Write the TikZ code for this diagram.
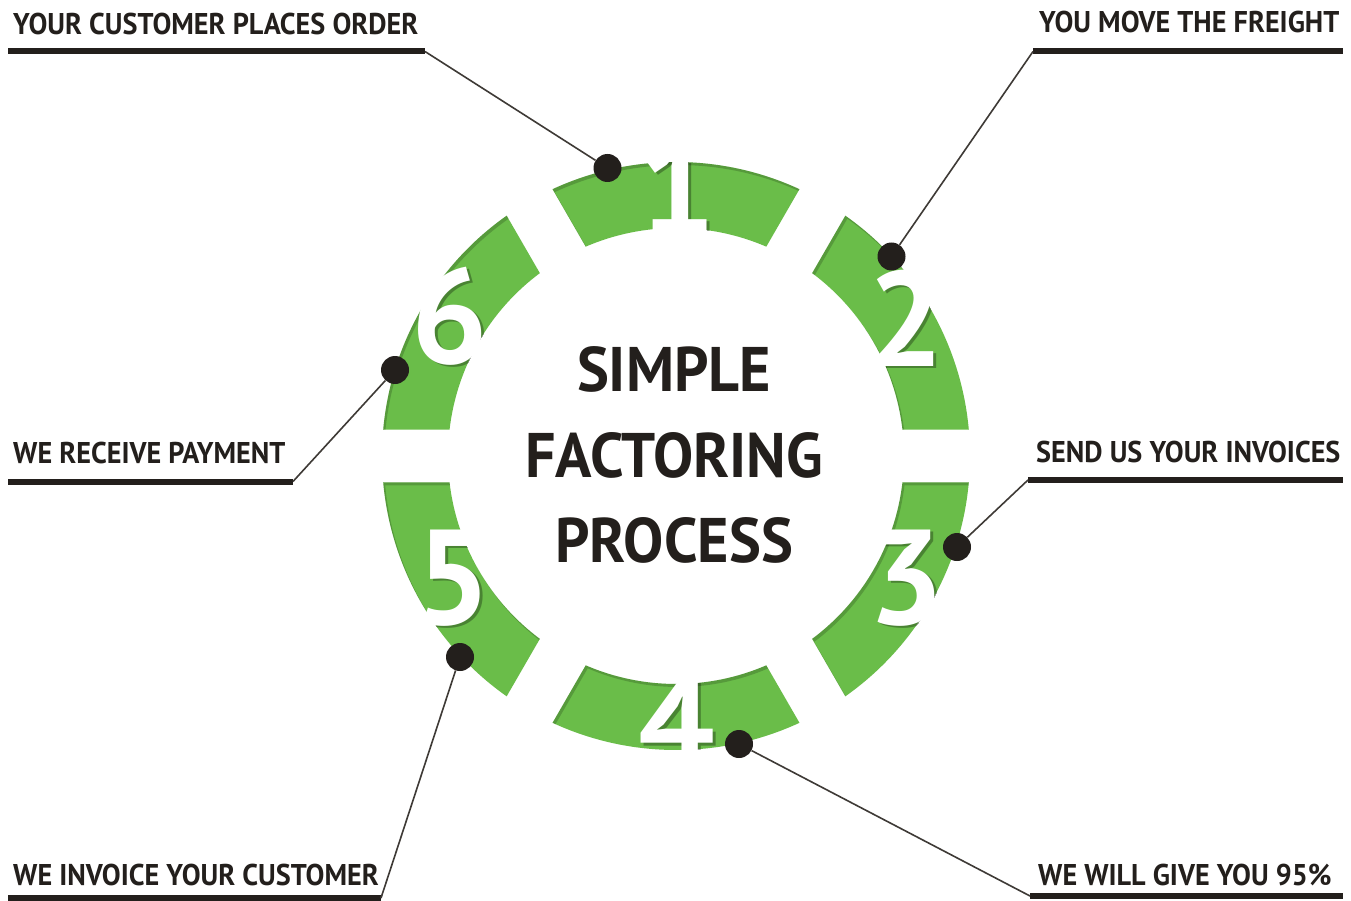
\documentclass[tikz,border=0pt]{standalone}
\usepackage{fontspec}
\setmainfont{PT Sans}
\newfontfamily\labfont{PT Sans}[FakeStretch=0.94]
\newfontfamily\ttlfont{PT Sans}[FakeStretch=0.955]
\usetikzlibrary{calc}
\definecolor{ringgreen}{RGB}{106,189,73}
\definecolor{ink}{RGB}{35,31,28}
\definecolor{leadgray}{RGB}{62,58,54}
\begin{document}
\begin{tikzpicture}[x=1pt,y=-1pt,
  lab/.style={font=\labfont\fontsize{30}{36}\selectfont\bfseries, text=ink, inner sep=0pt},
  ttl/.style={font=\ttlfont\fontsize{63}{70}\selectfont\bfseries, text=ink, inner sep=0pt},
  digit/.style={font=\fontsize{135}{140}\selectfont\bfseries, inner sep=0pt},
  bar/.style={draw=ink, line width=6pt},
  leader/.style={draw=leadgray, line width=1.6pt},
  dot/.style={circle, fill=ink, minimum size=28pt, inner sep=0pt}]
\useasboundingbox (0,0) rectangle (1351,901);
\fill[white] (0,0) rectangle (1351,901);

% ---- ring of six segments, separated by straight gaps ----
\begin{scope}[shift={(676,456)}]
  \foreach \a in {-120,-60,0,60,120,180}{
    \pgfmathsetmacro\oa{\a+5.17}
    \pgfmathsetmacro\ob{\a+60-5.17}
    \pgfmathsetmacro\ia{\a+6.67}
    \pgfmathsetmacro\ib{\a+60-6.67}
    \fill[ringgreen] (\oa:294) arc[start angle=\oa, end angle=\ob, radius=294]
      -- (\ib:228) arc[start angle=\ib, end angle=\ia, radius=228] -- cycle;
    % inset shade along the upper and left rims
    \begin{scope}
      \clip (\oa:294) arc[start angle=\oa, end angle=\ob, radius=294]
        -- (\ib:228) arc[start angle=\ib, end angle=\ia, radius=228] -- cycle;
      \fill[black, opacity=.18, even odd rule] (-400,-400) rectangle (400,400)
        ([shift={(2,3)}]\oa:294) arc[start angle=\oa, end angle=\ob, radius=294]
        -- ([shift={(2,3)}]\ib:228) arc[start angle=\ib, end angle=\ia, radius=228] -- cycle;
    \end{scope}
  }
\end{scope}

% ---- step numbers: shadow on the ring, then white figures ----
\begin{scope}[even odd rule]
  \clip (676,456) circle[radius=294] (676,456) circle[radius=228];
  \begin{scope}[shift={(2.5,2.5)}]
    \foreach \p/\t in {{(678,186)}/1,{(906,318)}/2,{(906,578)}/3,{(677,722)}/4,{(453,578)}/5,{(450,316)}/6}
      \node[digit, text=black, opacity=.3] at \p {\t};
  \end{scope}
\end{scope}
\node[digit, text=white] (n1) at (678,186) {1};
\node[digit, text=white] (n2) at (906,318) {2};
\node[digit, text=white] (n3) at (906,578) {3};
\node[digit, text=white] (n4) at (677,722) {4};
\node[digit, text=white] (n5) at (453,578) {5};
\node[digit, text=white] (n6) at (450,316) {6};

% ---- title ----
\node[ttl] (t1) at (674,369) {SIMPLE};
\node[ttl] (t2) at (674,455) {FACTORING};
\node[ttl] (t3) at (674,540) {PROCESS};

% ---- labels with underline bars ----
\node[lab, anchor=base west] (l1) at (13,35) {YOUR CUSTOMER PLACES ORDER};
\node[lab, anchor=base west] (l2) at (1039,33) {YOU MOVE THE FREIGHT};
\node[lab, anchor=base west] (l3) at (1036,462) {SEND US YOUR INVOICES};
\node[lab, anchor=base west] (l4) at (1038,885) {WE WILL GIVE YOU 95\%};
\node[lab, anchor=base west] (l5) at (13,885) {WE INVOICE YOUR CUSTOMER};
\node[lab, anchor=base west] (l6) at (13,463) {WE RECEIVE PAYMENT};

\coordinate (b1s) at (8,51.5);    \coordinate (b1e) at (425,51.5);
\coordinate (b2s) at (1033,51.5); \coordinate (b2e) at (1343,51.5);
\coordinate (b3s) at (1028,480);  \coordinate (b3e) at (1343,480);
\coordinate (b4s) at (1030,896);  \coordinate (b4e) at (1343,896);
\coordinate (b5s) at (8,898);     \coordinate (b5e) at (381,898);
\coordinate (b6s) at (8,481.5);   \coordinate (b6e) at (293,481.5);
\foreach \i in {1,...,6} \draw[bar] (b\i s) -- (b\i e);

% ---- dots and leaders ----
\node[dot] (d1) at (607.5,168) {};
\node[dot] (d2) at (891.5,256.5) {};
\node[dot] (d3) at (957,547) {};
\node[dot] (d4) at (739,744) {};
\node[dot] (d5) at (460,657) {};
\node[dot] (d6) at (395,370) {};
\draw[leader] (d1) -- (b1e);
\draw[leader] (d2) -- (b2s);
\draw[leader] (d3) -- (b3s);
\draw[leader] (d4) -- (b4s);
\draw[leader] (d5) -- (b5e);
\draw[leader] (d6) -- (b6e);
\end{tikzpicture}
\end{document}
